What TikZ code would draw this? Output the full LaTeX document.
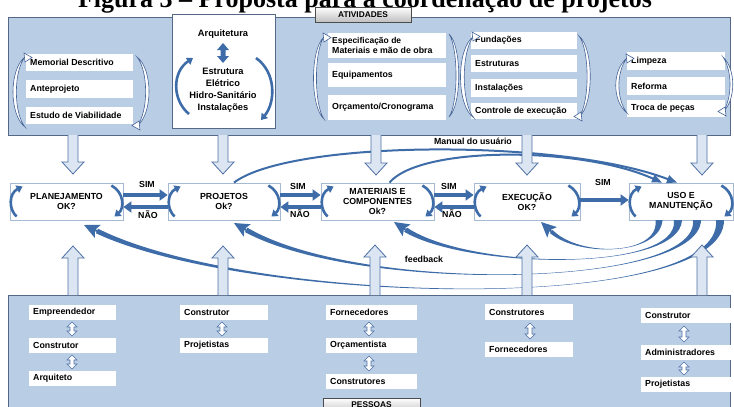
\documentclass[tikz,border=0pt]{standalone}
\usepackage{fontspec}
\setmainfont{Liberation Serif}
\newfontfamily\lab{Liberation Sans}
\usetikzlibrary{arrows.meta,calc}
\definecolor{panelfill}{RGB}{185,205,229}
\definecolor{panelline}{RGB}{85,105,135}
\definecolor{arrblue}{RGB}{62,108,168}
\definecolor{fatfill}{RGB}{220,230,243}
\definecolor{fatline}{RGB}{78,112,165}
\definecolor{boxline}{RGB}{165,185,210}
\definecolor{crsline}{RGB}{70,100,150}
\tikzset{
  lbl/.style={font=\lab\bfseries\fontsize{8.8}{10}\selectfont, inner sep=0pt, align=left},
  clbl/.style={font=\lab\bfseries\fontsize{8.8}{10}\selectfont, inner sep=0pt, align=center},
  panel/.style={fill=panelfill, draw=panelline, line width=0.8pt},
  midbox/.style={draw=boxline, fill=white, line width=0.8pt, minimum height=37pt, inner sep=0pt,
     font=\lab\bfseries\fontsize{8.8}{10}\selectfont, align=center},
  fat/.style={fill=fatfill, draw=fatline, line width=0.8pt, line join=miter},
  dbl/.style={fill=white, draw=fatline, line width=0.6pt},
  crs/.style={fill=white, draw=crsline, line width=0.6pt},
  curv/.style={draw=arrblue, line width=2.6pt, -{Triangle[length=6pt,width=8pt]}},
  flow/.style={draw=arrblue, line width=3.6pt, -{Triangle[length=8pt,width=11pt]}},
  fbbody/.style={fill=arrblue},
  fbhead/.style={draw=arrblue, line width=2pt, -{Stealth[length=15pt,width=14pt,inset=3pt]}},
  man/.style={draw=arrblue, line width=2pt, -{Triangle[length=10pt,width=8pt]}},
  tab/.style={top color=white, bottom color=black!25, draw=black!70, line width=0.6pt}
}
\newcommand\whitebox[6]{\fill[white] (#2,#3) rectangle (#4,#5);
  \node[lbl,anchor=west] (#1) at ({#2+4},{(#3+#5)/2}) {#6};}
\newcommand\fatdown[3]{\filldraw[fat] ({#1-5},#2) -- ({#1-5},{#3-12}) -- ({#1-11},{#3-12}) -- (#1,#3) -- ({#1+11},{#3-12}) -- ({#1+5},{#3-12}) -- ({#1+5},#2);}
\newcommand\fatup[3]{\filldraw[fat] ({#1-5},#2) -- ({#1-5},{#3+12}) -- ({#1-11},{#3+12}) -- (#1,#3) -- ({#1+11},{#3+12}) -- ({#1+5},{#3+12}) -- ({#1+5},#2);}
\newcommand\dblar[3]{\filldraw[dbl] (#1,#2) -- ({#1+5},{#2+5}) -- ({#1+2},{#2+5}) -- ({#1+2},{#3-5}) -- ({#1+5},{#3-5}) -- (#1,#3) -- ({#1-5},{#3-5}) -- ({#1-2},{#3-5}) -- ({#1-2},{#2+5}) -- ({#1-5},{#2+5}) -- cycle;}
% crescent: x, ytop, ybottom, bulge
\newcommand\crescent[4]{\filldraw[crs] (#1,#2) .. controls ({#1+(#4)},{#2+12}) and ({#1+(#4)},{#3-12}) .. (#1,#3) .. controls ({#1+0.72*(#4)},{#3-14}) and ({#1+0.72*(#4)},{#2+14}) .. cycle;}
% arrow tip of a crescent: x, y, direction (+1 right, -1 left), vertical (+1 top end, -1 bottom end)
\newcommand\crstip[4]{\filldraw[crs] ({#1-2*(#3)},{#2-4*(#4)}) -- ({#1+6*(#3)},{#2+0.5*(#4)}) -- ({#1-1*(#3)},{#2+5*(#4)}) -- cycle;}
\newcommand\midloops[1]{%
  \draw[curv] ([xshift=7pt,yshift=-15pt]#1.west) .. controls ([xshift=-1pt,yshift=-8pt]#1.west) and ([xshift=-1pt,yshift=8pt]#1.west) .. ([xshift=13pt,yshift=15pt]#1.west);
  \draw[curv] ([xshift=-12pt,yshift=16pt]#1.east) .. controls ([xshift=1pt,yshift=9pt]#1.east) and ([xshift=1pt,yshift=-7pt]#1.east) .. ([xshift=-9pt,yshift=-15pt]#1.east);}
\begin{document}
\begin{tikzpicture}[x=1pt,y=-1pt]
\useasboundingbox (0,0) rectangle (734,407);
% title (clipped at top)
\node[font=\bfseries\fontsize{26}{28}\selectfont, anchor=base, inner sep=0pt] (title) at (365,7.5) {Figura 3 -- Proposta para a coordenação de projetos};

% ---------- top panel ----------
\draw[panel] (8,17) rectangle (730,135);
\shade[tab] (315,7) rectangle (411,22);
\node[clbl,font=\lab\bfseries\fontsize{8.3}{9}\selectfont] (ativ) at (363,14.5) {ATIVIDADES};

% group 1
\whitebox{g1a}{26}{54}{133}{71}{Memorial Descritivo}
\whitebox{g1b}{26}{80}{133}{98}{Anteprojeto}
\whitebox{g1c}{26}{107}{133}{124}{Estudo de Viabilidade}
\crescent{25}{57}{127}{-16}\crstip{26}{57}{1}{1}
\crescent{137}{57}{126}{16}\crstip{138}{126}{-1}{-1}

% arquitetura box
\filldraw[fill=white, draw=panelline, line width=0.6pt] (172,14) rectangle (275,128);
\node[clbl,font=\lab\bfseries\fontsize{9.3}{10}\selectfont] (arq) at (223,34) {Arquitetura};
\node[clbl,font=\lab\bfseries\fontsize{9.3}{12}\selectfont] (estr) at (223,90) {Estrutura\\Elétrico\\Hidro-Sanitário\\Instalações};
\fill[arrblue] (223,43) -- (229,50) -- (225.5,50) -- (225.5,56) -- (229,56) -- (223,63) -- (217,56) -- (220.5,56) -- (220.5,50) -- (217,50) -- cycle;
\draw[curv] (189,114) .. controls (172,100) and (172,72) .. (193,58);
\draw[curv] (256,58) .. controls (276,72) and (276,102) .. (261,120);

% group 3
\whitebox{g3a}{328}{33}{446}{58}{\fontsize{8.5}{10}\selectfont Especificação de\\Materiais e mão de obra}
\whitebox{g3b}{328}{63}{446}{87}{Equipamentos}
\whitebox{g3c}{328}{95}{446}{120}{Orçamento/Cronograma}
\crescent{324}{37}{119}{-14}\crstip{325}{37}{1}{1}
\crescent{449}{34}{117}{13}

% group 4
\whitebox{g4a}{471}{32}{577}{49}{Fundações}
\whitebox{g4b}{471}{55}{577}{72}{Estruturas}
\whitebox{g4c}{471}{79}{577}{97}{Instalações}
\whitebox{g4d}{471}{103}{577}{119}{Controle de execução}
\crescent{474}{36}{118}{-18}\crstip{474}{36}{1}{1}
\crescent{579}{36}{117}{15}\crstip{580}{117}{-1}{-1}

% group 5
\whitebox{g5a}{627}{52}{725}{70}{Limpeza}
\whitebox{g5b}{627}{77}{725}{95}{Reforma}
\whitebox{g5c}{627}{100}{725}{117}{Troca de peças}
\crescent{627}{58}{113}{-15}\crstip{628}{58}{1}{1}
\crescent{723}{57}{112}{13}\crstip{724}{112}{-1}{-1}

% ---------- middle row ----------
\node[midbox, minimum width=113pt] (plan) at (66.5,201.5) {PLANEJAMENTO\\OK?};
\node[midbox, minimum width=112pt] (proj) at (224,201.5) {PROJETOS\\Ok?};
\node[midbox, minimum width=113pt] (mat) at (377.5,201.5) {MATERIAIS E\\COMPONENTES\\Ok?};
\node[midbox, minimum width=106pt] (exec) at (527,201.5) {EXECUÇÃO\\OK?};
\node[midbox, minimum width=104pt] (uso) at (681,201.5) {USO E\\MANUTENÇÃO};
\midloops{plan}\midloops{proj}\midloops{mat}\midloops{exec}\midloops{uso}

\draw[flow] ([yshift=6.5pt]plan.east) -- ([yshift=6.5pt]proj.west);
\draw[flow] ([yshift=-5.5pt]proj.west) -- ([yshift=-5.5pt]plan.east);
\draw[flow] ([yshift=6.5pt]proj.east) -- ([yshift=6.5pt]mat.west);
\draw[flow] ([yshift=-5.5pt]mat.west) -- ([yshift=-5.5pt]proj.east);
\draw[flow] ([yshift=6.5pt]mat.east) -- ([yshift=6.5pt]exec.west);
\draw[flow] ([yshift=-5.5pt]exec.west) -- ([yshift=-5.5pt]mat.east);
\draw[flow] ([yshift=1.5pt]exec.east) -- ([yshift=1.5pt]uso.west);
\node[clbl] (s1) at (147,184) {SIM};
\node[clbl] (n1) at (148,215) {NÃO};
\node[clbl] (s2) at (298,186) {SIM};
\node[clbl] (n2) at (300,214) {NÃO};
\node[clbl] (s3) at (449,186) {SIM};
\node[clbl] (n3) at (452,214) {NÃO};
\node[clbl] (s4) at (603,182) {SIM};

% manual do usuario
\draw[man] ([xshift=10pt]proj.north) .. controls (290,140) and (560,138) .. ([xshift=-4pt]uso.north);
\draw[man] ([xshift=12pt]mat.north) .. controls (420,146) and (580,146) .. ([xshift=-19pt]uso.north);
\node[clbl] (manual) at (473,141) {Manual do usuário};

% feedback (tapered bodies + heads)
\fill[fbbody] (716,220) .. controls (725,315) and (250,305) .. (98,228.7) -- (96,233.3) .. controls (250,305) and (725,315) .. (724,220) -- cycle;
\draw[fbhead] (97,231) -- (84,225);
\fill[fbbody] (693,220) .. controls (700,288) and (360,294) .. (247.4,227.7) -- (245,232.1) .. controls (360,294) and (700,288) .. (701,220) -- cycle;
\draw[fbhead] (246.2,229.9) -- (234,223);
\fill[fbbody] (674,220) .. controls (680,272) and (470,270) .. (407,227.6) -- (404.2,231.8) .. controls (470,270) and (680,272) .. (682,220) -- cycle;
\draw[fbhead] (405.6,229.7) -- (394,222);
\fill[fbbody] (655.5,220) .. controls (660,255) and (580,258) .. (552.6,230) -- (549.8,233) .. controls (580,258) and (660,255) .. (662.5,220) -- cycle;
\draw[fbhead] (551.2,231.5) -- (541,222);
\node[clbl] (feedback) at (424,259) {feedback};

% fat arrows top -> middle
\fatdown{73}{135}{174}
\fatdown{223}{135}{174}
\fatdown{376}{135}{175}
\fatdown{527}{135}{175}
\fatdown{702}{135}{175}

% ---------- bottom panel ----------
\draw[panel] (8,295) rectangle (730,412);
\fatup{73}{295}{246}
\fatup{223}{295}{246}
\fatup{375}{295}{245}
\fatup{527}{295}{245}
\fatup{702}{295}{245}

\whitebox{p1a}{29}{305}{116}{320}{Empreendedor}
\whitebox{p1b}{29}{338}{116}{353}{Construtor}
\whitebox{p1c}{29}{371}{116}{386}{Arquiteto}
\dblar{72}{322}{336}\dblar{72}{355}{369}

\whitebox{p2a}{180}{305}{268}{320}{Construtor}
\whitebox{p2b}{180}{338}{268}{353}{Projetistas}
\dblar{222}{322}{336}

\whitebox{p3a}{326}{305}{417}{320}{Fornecedores}
\whitebox{p3b}{326}{338}{417}{353}{Orçamentista}
\whitebox{p3c}{326}{374}{417}{389}{Construtores}
\dblar{369}{322}{336}\dblar{369}{356}{371}

\whitebox{p4a}{485}{304}{573}{320}{Construtores}
\whitebox{p4b}{485}{342}{573}{357}{Fornecedores}
\dblar{530}{323}{339}

\whitebox{p5a}{641}{308}{731}{323}{Construtor}
\whitebox{p5b}{641}{345}{731}{360}{Administradores}
\whitebox{p5c}{641}{377}{731}{392}{Projetistas}
\dblar{684}{326}{342}\dblar{684}{362}{375}

\shade[tab] (323,398) rectangle (420,414);
\node[clbl,font=\lab\bfseries\fontsize{8.3}{9}\selectfont] (pess) at (371.5,404.5) {PESSOAS};
\end{tikzpicture}
\end{document}
